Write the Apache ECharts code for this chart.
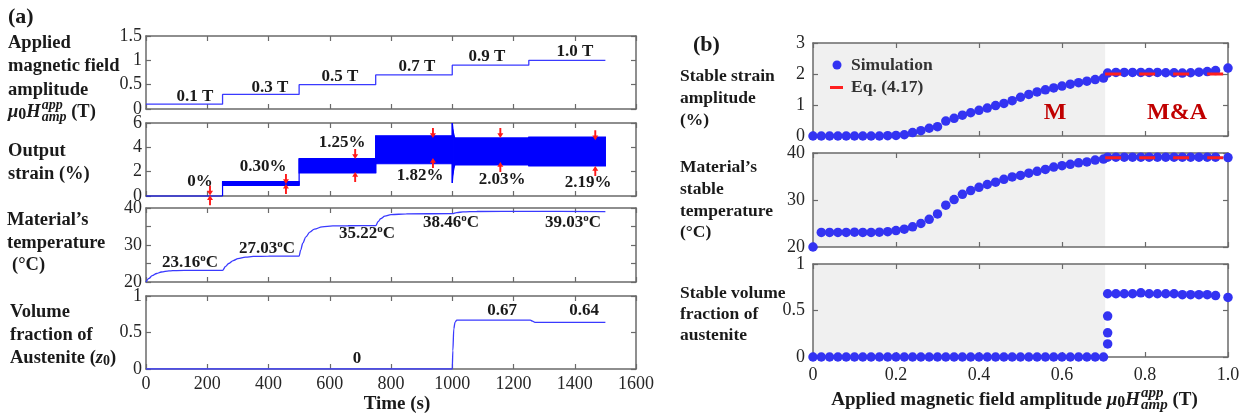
<!DOCTYPE html>
<html>
<head>
<meta charset="utf-8">
<script src="https://cdn.jsdelivr.net/npm/echarts@6/dist/echarts.min.js"></script>
<style>
  html, body { margin: 0; padding: 0; background: #fff; }
  #chart { width: 1244px; height: 416px; }
</style>
</head>
<body>
<div id="chart"></div>
<script>
// ---------- (a) time histories ----------
const timeTicks = [0, 200, 400, 600, 800, 1000, 1200, 1400, 1600];

// applied field amplitude (T), one level per 250 s block
const fieldT = [0, 250, 500, 750, 1000, 1250, 1500];
const fieldB = [0.1, 0.3, 0.5, 0.7, 0.9, 1.0, 1.0];

// output strain envelope (%): lower / upper edge of the oscillation band
const strainT  = [0, 250, 250, 500, 500, 750, 750, 1000, 1000, 1003, 1008, 1250, 1250, 1500];
const strainLo = [0, 0, 0.88, 0.88, 1.90, 1.90, 2.65, 2.65, 1.07, 1.95, 2.55, 2.55, 2.47, 2.47];
const strainHi = [0, 0, 1.18, 1.18, 3.07, 3.07, 4.95, 4.95, 6.00, 5.30, 4.77, 4.77, 4.85, 4.85];
const strainAmp = [0, 0.30, 1.25, 1.82, 2.03, 2.19];

// amplitude markers
const arrowT  = [209, 457, 683, 937, 1157, 1467];
const arrowHi = [0.45, 1.40, 3.45, 5.18, 5.18, 5.00];
const arrowLo = [-0.35, 0.58, 1.56, 2.71, 2.38, 2.05];

// material temperature (°C)
const tempT = [0, 10, 20, 35, 50, 75, 100, 150, 250,
               260, 270, 285, 300, 325, 350, 400, 500,
               505, 512, 522, 535, 550, 575, 610, 660, 750,
               758, 766, 780, 800, 850, 1000,
               1015, 1035, 1080, 1250, 1500];
const tempC = [20, 21.0, 21.7, 22.3, 22.7, 23.0, 23.1, 23.15, 23.16,
               24.2, 25.0, 25.8, 26.3, 26.7, 26.9, 27.0, 27.03,
               28.6, 30.5, 32.2, 33.5, 34.3, 34.9, 35.15, 35.2, 35.22,
               36.3, 37.1, 37.8, 38.2, 38.42, 38.46,
               38.75, 38.95, 39.05, 39.08, 39.03];
const tempPlateau = [23.16, 27.03, 35.22, 38.46, 39.03];

// austenite volume fraction z0
const volT = [0, 1000, 1002, 1005, 1009, 1015, 1255, 1262, 1270, 1500];
const volZ = [0, 0, 0.25, 0.55, 0.64, 0.67, 0.67, 0.655, 0.64, 0.64];
const volLabels = [0, 0.67, 0.64];

// ---------- (b) stable response vs. field amplitude ----------
const ampX = [0, 0.02, 0.04, 0.06, 0.08, 0.10, 0.12, 0.14, 0.16, 0.18,
              0.20, 0.22, 0.24, 0.26, 0.28, 0.30, 0.32, 0.34, 0.36, 0.38,
              0.40, 0.42, 0.44, 0.46, 0.48, 0.50, 0.52, 0.54, 0.56, 0.58,
              0.60, 0.62, 0.64, 0.66, 0.68, 0.70,
              0.71, 0.73, 0.75, 0.77, 0.79, 0.81, 0.83, 0.85, 0.87, 0.89,
              0.91, 0.93, 0.95, 0.97, 1.00];
const stableStrain = [0, 0, 0, 0, 0, 0, 0, 0, 0, 0.01,
              0.02, 0.04, 0.11, 0.17, 0.25, 0.30, 0.48, 0.57, 0.67, 0.75,
              0.83, 0.90, 0.98, 1.05, 1.14, 1.25, 1.34, 1.42, 1.49, 1.55,
              1.61, 1.67, 1.72, 1.77, 1.82, 1.87,
              2.03, 2.05, 2.05, 2.05, 2.05, 2.05, 2.05, 2.04, 2.04, 2.03,
              2.04, 2.06, 2.08, 2.11, 2.19];
const stableTemp = [20, 23.1, 23.1, 23.1, 23.1, 23.16, 23.1, 23.1, 23.15, 23.25,
              23.5, 23.8, 24.3, 25.0, 25.9, 27.03, 28.9, 30.1, 31.2, 32.0,
              32.7, 33.3, 33.8, 34.4, 34.9, 35.22, 35.7, 36.1, 36.5, 37.0,
              37.3, 37.6, 37.9, 38.1, 38.5, 38.7,
              39.1, 39.1, 39.1, 39.1, 39.1, 39.1, 39.1, 39.1, 39.1, 39.1,
              39.1, 39.1, 39.1, 39.1, 39.03];
const stableVol = [0, 0, 0, 0, 0, 0, 0, 0, 0, 0,
              0, 0, 0, 0, 0, 0, 0, 0, 0, 0,
              0, 0, 0, 0, 0, 0, 0, 0, 0, 0,
              0, 0, 0, 0, 0, 0,
              0.68, 0.68, 0.68, 0.68, 0.69, 0.68, 0.68, 0.68, 0.68, 0.67,
              0.67, 0.67, 0.67, 0.66, 0.64];
// intermediate states sampled during the martensite -> austenite jump
const jumpX = [0.71, 0.71, 0.71];
const jumpVol = [0.14, 0.26, 0.44];
// Eq. (4.17) prediction in the mixed M&A regime
const eqX = [0.704, 0.99];
const eqStrain = [2.0, 2.0];
const eqTemp = [39.0, 39.0];
const martensiteEnd = 0.704;

// ---------- styling ----------
const SERIF = '"Liberation Serif", "Times New Roman", serif';
const FRAME = '#6a6a6a';
const INK = '#1a1a1a';
const LINE_BLUE = '#3a3aff';
const DOT_BLUE = '#3333f2';
const GRAY_BG = '#f0f0f0';

const pairs = (xs, ys) => xs.map((x, i) => [x, ys[i]]);

// grids: 0..3 left column, 4..6 right column
const grids = [
  { left: 146, width: 490, top: 36,  height: 73 },
  { left: 146, width: 490, top: 123, height: 73 },
  { left: 146, width: 490, top: 208, height: 74 },
  { left: 146, width: 490, top: 296, height: 73 },
  { left: 813, width: 415, top: 43,  height: 93 },
  { left: 813, width: 415, top: 153, height: 94 },
  { left: 813, width: 415, top: 264, height: 93 }
];

const axisCommon = {
  z: 2,
  axisLine: { show: true, onZero: false, lineStyle: { color: FRAME, width: 1.5 } },
  axisTick: { show: true, inside: true, length: 5, lineStyle: { color: FRAME, width: 1.2 } },
  splitLine: { show: false },
  axisLabel: { show: false }
};
const tickLabel = { color: '#262626', fontFamily: SERIF, fontSize: 18 };

const xAxes = [];
const yAxes = [];
function addX(grid, min, max, interval, labelCfg) {
  xAxes.push(Object.assign({}, axisCommon, {
    type: 'value', gridIndex: grid, position: 'bottom', min, max, interval,
    axisLabel: labelCfg ? Object.assign({ show: true }, tickLabel, labelCfg) : { show: false }
  }));
  xAxes.push(Object.assign({}, axisCommon, {
    type: 'value', gridIndex: grid, position: 'top', min, max, interval
  }));
}
function addY(grid, min, max, interval, fmt, margin) {
  yAxes.push(Object.assign({}, axisCommon, {
    type: 'value', gridIndex: grid, position: 'left', min, max, interval,
    axisLabel: Object.assign({ show: true, margin: margin, formatter: fmt || (v => String(v)) }, tickLabel)
  }));
  yAxes.push(Object.assign({}, axisCommon, {
    type: 'value', gridIndex: grid, position: 'right', min, max, interval
  }));
}

// left column
const tMin = timeTicks[0], tMax = timeTicks[timeTicks.length - 1];
addX(0, tMin, tMax, 200, null);
addX(1, tMin, tMax, 200, null);
addX(2, tMin, tMax, 200, null);
addX(3, tMin, tMax, 200, { margin: 6, formatter: v => String(v) });
addY(0, 0, 1.5, 0.5, null, 4);
addY(1, 0, 6, 2, null, 4);
addY(2, 20, 40, 5, v => (v % 10 === 0 ? String(v) : ''), 4);
addY(3, 0, 1, 0.5, null, 4);
// right column
const ampFmt = v => (v === 0 ? '0' : v.toFixed(1));
addX(4, 0, 1, 0.2, null);
addX(5, 0, 1, 0.2, null);
addX(6, 0, 1, 0.2, { margin: 9, formatter: ampFmt });
addY(4, 0, 3, 1, null, 8);
addY(5, 20, 40, 10, null, 8);
addY(6, 0, 1, 0.5, null, 8);

const ax = g => ({ xAxisIndex: 2 * g, yAxisIndex: 2 * g });

// up-pointing arrow with a short stem
const ARROW = 'path://M5,0 L10,7 L6.6,7 L6.6,15 L3.4,15 L3.4,7 L0,7 Z';

const series = [];

// field steps
series.push(Object.assign({
  type: 'line', step: 'end', data: pairs(fieldT, fieldB), symbol: 'none',
  lineStyle: { color: LINE_BLUE, width: 1.3 }, z: 3
}, ax(0)));

// strain envelope: each consecutive pair of samples is filled as a quad
series.push(Object.assign({
  type: 'custom', z: 3, clip: false,
  data: strainT.map((t, i) => [t, strainLo[i], strainHi[i]]),
  encode: { x: 0, y: [1, 2] },
  renderItem: (params, api) => {
    const i = params.dataIndex;
    if (i >= strainT.length - 1) return null;
    const pts = [
      api.coord([strainT[i], strainHi[i]]),
      api.coord([strainT[i + 1], strainHi[i + 1]]),
      api.coord([strainT[i + 1], strainLo[i + 1]]),
      api.coord([strainT[i], strainLo[i]])
    ];
    return {
      type: 'polygon', shape: { points: pts },
      style: { fill: '#0000ff', stroke: '#0000ff', lineWidth: 1.2 }
    };
  }
}, ax(1)));
series.push(Object.assign({
  type: 'scatter', data: pairs(arrowT, arrowHi), symbol: ARROW, symbolSize: [6, 10],
  symbolRotate: 180, itemStyle: { color: '#ff1a1a', opacity: 1 }, clip: false, z: 4
}, ax(1)));
series.push(Object.assign({
  type: 'scatter', data: pairs(arrowT, arrowLo), symbol: ARROW, symbolSize: [6, 10],
  itemStyle: { color: '#ff1a1a', opacity: 1 }, clip: false, z: 4
}, ax(1)));

// temperature
series.push(Object.assign({
  type: 'line', data: pairs(tempT, tempC), symbol: 'none', smooth: 0.35, smoothMonotone: 'x',
  lineStyle: { color: LINE_BLUE, width: 1.3 }, z: 3
}, ax(2)));

// volume fraction
series.push(Object.assign({
  type: 'line', data: pairs(volT, volZ), symbol: 'none', smooth: 0.3, smoothMonotone: 'x',
  lineStyle: { color: LINE_BLUE, width: 1.3 }, z: 3
}, ax(3)));

// right column: shaded martensite regime + simulation dots + Eq. (4.17)
const shade = {
  silent: true, z: 1, itemStyle: { color: GRAY_BG },
  data: [[{ xAxis: 0 }, { xAxis: martensiteEnd }]]
};
const dotStyle = { color: DOT_BLUE, opacity: 1 };
series.push(Object.assign({
  name: 'Simulation', type: 'scatter', data: pairs(ampX, stableStrain), symbolSize: 9.5,
  itemStyle: dotStyle, clip: false, z: 3, markArea: shade
}, ax(4)));
series.push(Object.assign({
  name: 'Eq. (4.17)', type: 'line', data: pairs(eqX, eqStrain), symbol: 'none',
  lineStyle: { color: '#ff1f1f', width: 3, type: [16, 18], cap: 'butt' }, z: 4
}, ax(4)));
series.push(Object.assign({
  name: 'Simulation', type: 'scatter', data: pairs(ampX, stableTemp), symbolSize: 9.5,
  itemStyle: dotStyle, clip: false, z: 3, markArea: shade
}, ax(5)));
series.push(Object.assign({
  name: 'Eq. (4.17)', type: 'line', data: pairs(eqX, eqTemp), symbol: 'none',
  lineStyle: { color: '#ff1f1f', width: 3, type: [16, 18], cap: 'butt' }, z: 4
}, ax(5)));
series.push(Object.assign({
  name: 'Simulation', type: 'scatter',
  data: pairs(ampX, stableVol).concat(pairs(jumpX, jumpVol)), symbolSize: 9.5,
  itemStyle: dotStyle, clip: false, z: 3, markArea: shade
}, ax(6)));

// ---------- text ----------
const mctx = document.createElement('canvas').getContext('2d');
const font = (size, bold, italic) => (italic ? 'italic ' : '') + (bold ? 'bold ' : '') + size + 'px ' + SERIF;
const width = (t, f) => { mctx.font = f; return mctx.measureText(t).width; };

function txt(x, y, text, f, fill, align) {
  return {
    type: 'text', x: x, y: y, silent: true, z: 20,
    style: {
      text: text, font: f, fill: fill || INK,
      align: align || 'left', verticalAlign: 'middle',
      textAlign: align || 'left', textVerticalAlign: 'middle'
    }
  };
}
// a run of pieces placed one after another; a piece may carry a sup/sub pair
function run(x, y, parts, anchor, fill) {
  const ws = parts.map(p => p.sup !== undefined
    ? Math.max(width(p.sup, p.f), width(p.sub, p.f)) : width(p.t, p.f));
  const total = ws.reduce((a, b) => a + b, 0);
  let cx = anchor === 'center' ? x - total / 2 : x;
  const out = [];
  parts.forEach((p, i) => {
    if (p.sup !== undefined) {
      out.push(txt(cx, y + p.up, p.sup, p.f, fill));
      out.push(txt(cx, y + p.down, p.sub, p.f, fill));
    } else {
      out.push(txt(cx, y + (p.dy || 0), p.t, p.f, fill));
    }
    cx += ws[i] + (p.gap || 0);
  });
  return out;
}

function muH(size) {
  const F = font(size, true), FI = font(size, true, true), S = font(Math.round(size * 0.78), true, true);
  return [
    { t: 'μ', f: FI },
    { t: '0', f: font(Math.round(size * 0.85), true), dy: 3 },
    { t: 'H', f: FI, gap: 1 },
    { sup: 'app', sub: 'amp', f: S, up: -7, down: 5 },
    { t: ' (T)', f: F }
  ];
}

const BL = font(18.5, true), BLI = font(18.5, true, true);
const B17 = font(17, true), BR = font(17.5, true), BX = font(19, true);

const graphics = [];
// panel tags
graphics.push(txt(8, 17, '(a)', font(22, true)));
graphics.push(txt(693, 45, '(b)', font(22, true)));

// left column titles
graphics.push(txt(8, 43, 'Applied', BL));
graphics.push(txt(8, 66, 'magnetic field', BL));
graphics.push(txt(8, 90, 'amplitude', BL));
run(8, 112, muH(18.5), 'left').forEach(e => graphics.push(e));
graphics.push(txt(8, 151, 'Output', BL));
graphics.push(txt(8, 174, 'strain (%)', BL));
graphics.push(txt(7, 220, 'Material’s', BL));
graphics.push(txt(7, 243, 'temperature', BL));
graphics.push(txt(12, 265, '(°C)', BL));
graphics.push(txt(10, 312, 'Volume', BL));
graphics.push(txt(10, 335, 'fraction of', BL));
run(10, 358, [
  { t: 'Austenite (', f: BL },
  { t: 'z', f: BLI },
  { t: '0', f: font(14, true), dy: 3 },
  { t: ')', f: BL }
], 'left').forEach(e => graphics.push(e));

// right column titles
graphics.push(txt(680, 76, 'Stable strain', BR));
graphics.push(txt(680, 98, 'amplitude', BR));
graphics.push(txt(680, 120, '(%)', BR));
graphics.push(txt(680, 167, 'Material’s', BR));
graphics.push(txt(680, 189, 'stable', BR));
graphics.push(txt(680, 211, 'temperature', BR));
graphics.push(txt(680, 232, '(°C)', BR));
graphics.push(txt(680, 293, 'Stable volume', BR));
graphics.push(txt(680, 314, 'fraction of', BR));
graphics.push(txt(680, 335, 'austenite', BR));

// axis titles
graphics.push(txt(397, 404, 'Time (s)', BX, INK, 'center'));
run(1014, 400, [{ t: 'Applied magnetic field amplitude ', f: BX }].concat(muH(19)), 'center')
  .forEach(e => graphics.push(e));

// field level labels
const fieldLabelPos = [[195, 97], [270, 88], [340, 77], [417, 67], [487, 57], [575, 52]];
fieldLabelPos.forEach((p, i) => graphics.push(txt(p[0], p[1], fieldB[i].toFixed(1) + ' T', B17, INK, 'center')));

// strain amplitude labels
const strainLabelPos = [[200, 182], [263, 167], [342, 143], [420, 176], [502, 180], [588, 183]];
strainLabelPos.forEach((p, i) => graphics.push(
  txt(p[0], p[1], strainAmp[i] === 0 ? '0%' : strainAmp[i].toFixed(2) + '%', B17, INK, 'center')));

// temperature plateau labels
const tempLabelPos = [[190, 263], [267, 249], [367, 234], [451, 223], [573, 223]];
tempLabelPos.forEach((p, i) => run(p[0], p[1], [
  { t: tempPlateau[i].toFixed(2), f: B17 },
  { t: 'o', f: font(11, true), dy: -5 },
  { t: 'C', f: B17 }
], 'center').forEach(e => graphics.push(e)));

// volume fraction labels
const volLabelPos = [[357, 359], [502, 311], [584, 311]];
volLabelPos.forEach((p, i) => graphics.push(
  txt(p[0], p[1], volLabels[i] === 0 ? '0' : volLabels[i].toFixed(2), B17, INK, 'center')));

// regime labels
graphics.push(txt(1055, 113, 'M', font(24, true), '#c00000', 'center'));
graphics.push(txt(1177, 113, 'M&A', font(24, true), '#c00000', 'center'));

// legend
graphics.push({ type: 'circle', silent: true, z: 20, shape: { cx: 837, cy: 65, r: 4.5 }, style: { fill: DOT_BLUE } });
graphics.push(txt(851, 65, 'Simulation', BR, '#333'));
graphics.push({ type: 'rect', silent: true, z: 20, shape: { x: 830, y: 86, width: 13, height: 3 }, style: { fill: '#ff1f1f' } });
graphics.push(txt(851, 87, 'Eq. (4.17)', BR, '#333'));

const chart = echarts.init(document.getElementById('chart'), null, { renderer: 'canvas' });
chart.setOption({
  animation: false,
  backgroundColor: '#ffffff',
  grid: grids,
  xAxis: xAxes,
  yAxis: yAxes,
  series: series,
  graphic: { elements: graphics }
});
</script>
</body>
</html>
